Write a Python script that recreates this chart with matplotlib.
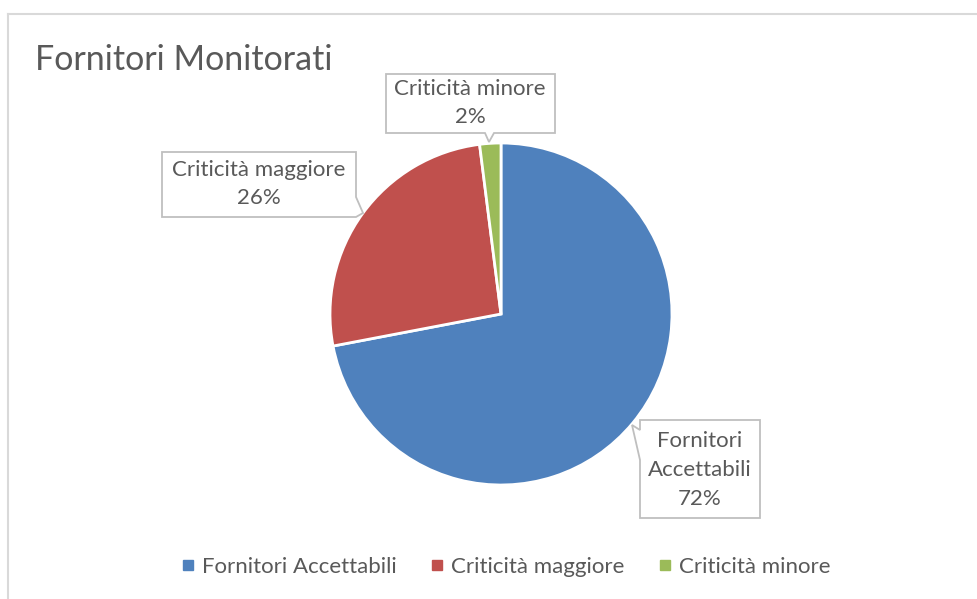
import matplotlib
matplotlib.use('Agg')
from matplotlib import pyplot as plt
from matplotlib.patches import Polygon
from matplotlib.lines import Line2D

plt.rcParams['font.family'] = ['Lato', 'DejaVu Sans']

# data
categories = ['Fornitori Accettabili', 'Criticità maggiore', 'Criticità minore']
values = [72, 26, 2]
colors = ['#4f81bd', '#c0504d', '#9bbb59']
label_texts = ['Fornitori\nAccettabili\n72%', 'Criticità maggiore\n26%', 'Criticità minore\n2%']

W, H = 978, 599
fig = plt.figure(figsize=(W / 100, H / 100), dpi=100)
ax = fig.add_axes([0, 0, 1, 1])

# pie in pixel-like coords (y up)
cx, cy, r = 501, H - 314, 171
wedges, _ = ax.pie(values, colors=colors, startangle=90, counterclock=False,
                   center=(cx, cy), radius=r,
                   wedgeprops=dict(edgecolor='white', linewidth=2))
ax.set_xlim(0, W)
ax.set_ylim(0, H)
ax.set_aspect('equal')
ax.axis('off')

txt = '#595959'
edge = '#bfbfbf'


def callout(pts, text_xy, text):
    # pts given in image pixel coords (y down)
    poly = Polygon([(x, H - y) for x, y in pts], closed=True,
                   facecolor='white', edgecolor=edge, linewidth=1.3, zorder=5)
    ax.add_patch(poly)
    ax.text(text_xy[0], H - text_xy[1], text, ha='center', va='center',
            color=txt, fontsize=16, linespacing=1.55, zorder=6)


# Criticità minore
callout([(386, 74), (555, 74), (555, 133), (494, 133), (489, 142), (485, 133), (386, 133)],
        (470, 103), label_texts[2])
# Criticità maggiore
callout([(162, 152), (356, 152), (356, 197), (363, 213), (356, 217), (162, 217)],
        (259, 184), label_texts[1])
# Fornitori Accettabili
callout([(640, 420), (760, 420), (760, 518), (640, 518), (640, 460), (632, 425), (640, 430)],
        (700, 470), label_texts[0])

# title
fig.text(35 / W, 1 - 60 / H, 'Fornitori Monitorati', ha='left', va='center',
         color=txt, fontsize=24.5)

# chart frame (cut off at right/bottom)
fig.add_artist(Line2D([8 / W, 1], [1 - 14 / H, 1 - 14 / H], color='#d9d9d9', lw=1.5))
fig.add_artist(Line2D([8 / W, 8 / W], [1 - 14 / H, 0], color='#d9d9d9', lw=1.5))

# legend
handles = [Line2D([], [], marker='s', linestyle='none', markersize=7,
                  markerfacecolor=c, markeredgecolor=c) for c in colors]
fig.legend(handles, categories, loc='center', bbox_to_anchor=(506 / W, 1 - 567 / H),
           ncol=3, frameon=False, fontsize=16, labelcolor=txt,
           handlelength=0.6, handletextpad=0.35, columnspacing=1.5)

fig.savefig('out.png', dpi=100)
